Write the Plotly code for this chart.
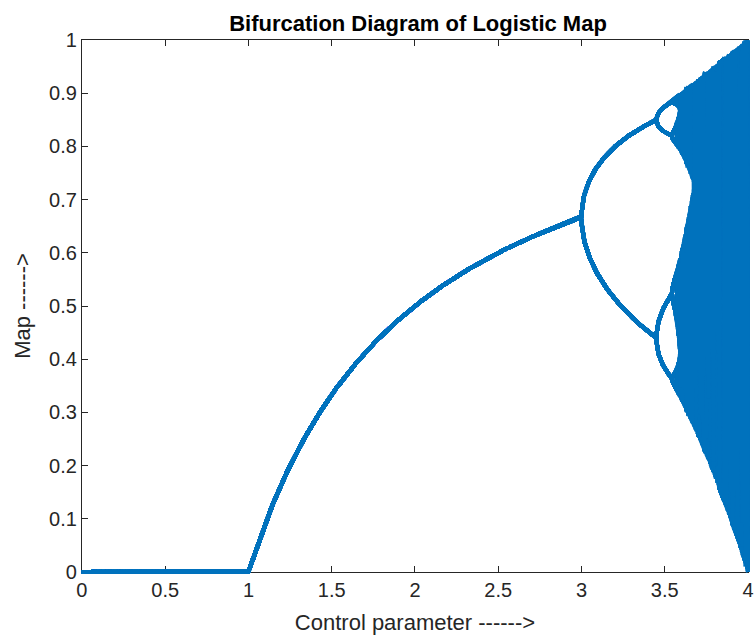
import numpy as np
import plotly.graph_objects as go

# Logistic map x_{n+1} = r * x_n * (1 - x_n), swept over the control parameter
r_start = 0.0
r_stop = 4.0
r_step = 0.002
x_initial = 0.5
n_transient = 1000   # iterations discarded before recording
n_keep = 100         # iterations recorded for each r

x_ticks = [0, 0.5, 1, 1.5, 2, 2.5, 3, 3.5, 4]
y_ticks = [0, 0.1, 0.2, 0.3, 0.4, 0.5, 0.6, 0.7, 0.8, 0.9, 1]

r = np.linspace(r_start, r_stop, int(round((r_stop - r_start) / r_step)) + 1)
x = np.full_like(r, x_initial)
for _ in range(n_transient):
    x = r * x * (1 - x)

orbit = np.empty((n_keep, r.size))
for k in range(n_keep):
    x = r * x * (1 - x)
    orbit[k] = x

# each recorded iteration is drawn as one polyline across r (like plot(r, X))
xs, ys = [], []
for k in range(n_keep):
    xs.extend(np.round(r, 4).tolist()); xs.append(None)
    ys.extend(np.round(orbit[k], 5).tolist()); ys.append(None)

# --- geometry (pixels) --------------------------------------------------
W, H = 756, 639
M_L, M_R, M_T, M_B = 72, 0, 30, 57          # outer plotting region
AX_L, AX_R, AX_T, AX_B = 82, 754, 40, 572   # visible axes box
pw, ph = W - M_L - M_R, H - M_T - M_B
dom_x = [(AX_L - M_L) / pw, (AX_R - M_L) / pw]
dom_y = [(H - M_B - AX_B) / ph, (H - M_B - AX_T) / ph]
# the data lives on a slightly larger, hidden subplot so thick lines on the
# box edges are not clipped; its ranges keep the same pixel scale
px_per_x = (AX_R - AX_L) / 4.0
px_per_y = (AX_B - AX_T) / 1.0
data_xrange = [0 - (AX_L - M_L) / px_per_x, 4 + (W - M_R - AX_R) / px_per_x]
data_yrange = [0 - (H - M_B - AX_B) / px_per_y, 1 + (AX_T - M_T) / px_per_y]

fig = go.Figure()
# empty trace so the visible axes get drawn
fig.add_trace(go.Scatter(x=[None], y=[None], xaxis="x", yaxis="y",
                         showlegend=False, hoverinfo="skip"))
fig.add_trace(go.Scatter(
    x=xs, y=ys, mode="lines", xaxis="x2", yaxis="y2",
    line=dict(color="#0072BD", width=4),
    hoverinfo="skip", showlegend=False,
))

FONT = "Liberation Sans, Arial, Helvetica, sans-serif"
axis_common = dict(
    showline=True, linecolor="#262626", linewidth=1, mirror="ticks",
    ticks="inside", ticklen=6, tickcolor="#262626",
    showgrid=False, zeroline=False,
    tickfont=dict(family=FONT, size=20, color="#262626"),
)
hidden = dict(visible=False, showgrid=False, zeroline=False, fixedrange=True)

fig.update_layout(
    width=W, height=H,
    margin=dict(l=M_L, r=M_R, t=M_T, b=M_B),
    paper_bgcolor="white", plot_bgcolor="rgba(0,0,0,0)",
    title=dict(
        text="<b>Bifurcation Diagram of Logistic Map</b>",
        x=418 / W, xanchor="center", y=1 - 23 / H, yanchor="middle",
        font=dict(family=FONT, size=22, color="black"),
    ),
    xaxis=dict(axis_common, domain=dom_x, anchor="y", range=[0, 4],
               tickvals=x_ticks, ticktext=[f"{v:g}" for v in x_ticks],
               ticklabeloverflow="allow",
               title=dict(text="Control parameter ------>", standoff=14,
                          font=dict(family=FONT, size=22, color="#262626"))),
    yaxis=dict(axis_common, domain=dom_y, anchor="x", range=[0, 1],
               tickvals=y_ticks, ticktext=[f"{v:g}" for v in y_ticks],
               title=dict(text="Map ------>", standoff=12,
                          font=dict(family=FONT, size=22, color="#262626"))),
    xaxis2=dict(hidden, domain=[0, 1], anchor="y2", range=data_xrange),
    yaxis2=dict(hidden, domain=[0, 1], anchor="x2", range=data_yrange),
)

fig.write_html("out.html")
